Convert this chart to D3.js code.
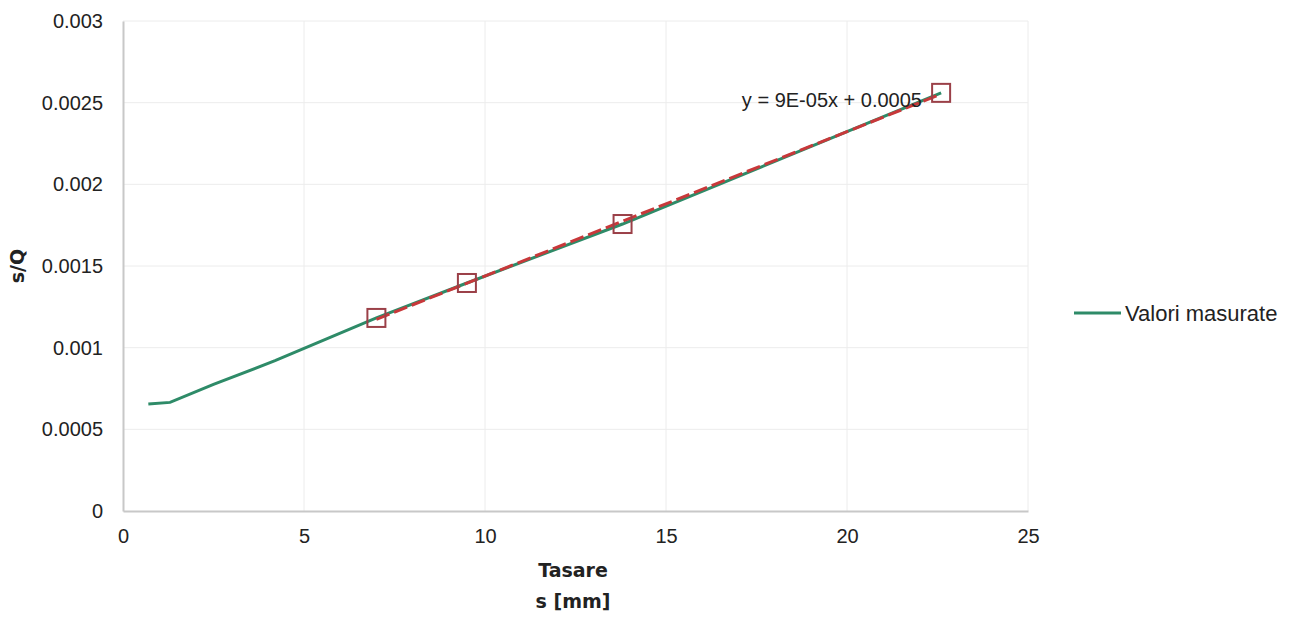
<!DOCTYPE html>
<html>
<head>
<meta charset="utf-8">
<script src="https://cdn.jsdelivr.net/npm/d3@7"></script>
<style>
  body { margin: 0; background: #fff; }
  svg { display: block; }
</style>
</head>
<body>
<div class="chart"></div>
<script>
// measured values (s [mm], s/Q)
var tasare = [0.7, 1.3, 2.5, 4.2, 7.0, 9.5, 13.8, 22.6];
var sQ = [0.000655, 0.000665, 0.000775, 0.00092, 0.001182, 0.001396, 0.001757, 0.00256];
// points used for the linear trend
var fitX = [7.0, 9.5, 13.8, 22.6];
var fitY = [0.001182, 0.001396, 0.001757, 0.00256];
var xTicks = [0, 5, 10, 15, 20, 25];
var yTicks = [0, 0.0005, 0.001, 0.0015, 0.002, 0.0025, 0.003];
var equation = "y = 9E-05x + 0.0005";
var legendName = "Valori masurate";

var W = 1297, H = 617;
var mLeft = 123, mRight = 1028, mTop = 21, mBottom = 511;

var svg = d3.select(".chart").append("svg")
  .attr("width", W)
  .attr("height", H);

var x = d3.scaleLinear().domain([0, 25]).range([mLeft, mRight]);
var y = d3.scaleLinear().domain([0, 0.003]).range([mBottom, mTop]);

// gridlines
svg.append("g").selectAll("line").data(yTicks.slice(1)).enter().append("line")
  .attr("x1", mLeft).attr("x2", mRight)
  .attr("y1", d => y(d)).attr("y2", d => y(d))
  .attr("stroke", "#ececec").attr("stroke-width", 1);
svg.append("g").selectAll("line").data(xTicks.slice(1)).enter().append("line")
  .attr("x1", d => x(d)).attr("x2", d => x(d))
  .attr("y1", mTop).attr("y2", mBottom)
  .attr("stroke", "#ececec").attr("stroke-width", 1);

// axes
var xAxis = svg.append("g")
  .attr("transform", "translate(0," + mBottom + ")")
  .call(d3.axisBottom(x).tickValues(xTicks).tickSize(0).tickPadding(18).tickFormat(d3.format("d")));
var yAxis = svg.append("g")
  .attr("transform", "translate(" + mLeft + ",0)")
  .call(d3.axisLeft(y).tickValues(yTicks).tickSize(0).tickPadding(20).tickFormat(d => d === 0 ? "0" : String(+d.toFixed(4))));

[xAxis, yAxis].forEach(function (a) {
  a.select(".domain").attr("stroke", "#c8c8c8").attr("stroke-width", 2);
  a.selectAll("text")
    .attr("fill", "#222")
    .style("font-family", "'Liberation Sans', Arial, sans-serif")
    .style("font-size", "20px");
});

// measured line
var line = d3.line().x((d, i) => x(tasare[i])).y(d => y(d));
svg.append("path")
  .datum(sQ)
  .attr("d", line)
  .attr("fill", "none")
  .attr("stroke", "#2e8b68")
  .attr("stroke-width", 3);

// trend line (least squares over fit points)
var mx = d3.mean(fitX), my = d3.mean(fitY);
var slope = d3.sum(fitX, (v, i) => (v - mx) * (fitY[i] - my)) / d3.sum(fitX, v => (v - mx) * (v - mx));
var icpt = my - slope * mx;
var x0 = d3.min(fitX), x1 = d3.max(fitX);
svg.append("line")
  .attr("x1", x(x0)).attr("y1", y(slope * x0 + icpt))
  .attr("x2", x(x1)).attr("y2", y(slope * x1 + icpt))
  .attr("stroke", "#c8383a")
  .attr("stroke-width", 3)
  .attr("stroke-dasharray", "14,5");

// markers
svg.append("g").selectAll("rect").data(fitX).enter().append("rect")
  .attr("x", d => x(d) - 9)
  .attr("y", (d, i) => y(fitY[i]) - 9)
  .attr("width", 18).attr("height", 18)
  .attr("fill", "none")
  .attr("stroke", "#9b4048")
  .attr("stroke-width", 2);

// equation
svg.append("text")
  .attr("x", 922).attr("y", 107)
  .attr("text-anchor", "end")
  .attr("fill", "#222")
  .style("font-family", "'Liberation Sans', Arial, sans-serif")
  .style("font-size", "20px")
  .text(equation);

// axis titles
var bold = "'DejaVu Sans', sans-serif";
svg.append("text")
  .attr("x", 573).attr("y", 577)
  .attr("text-anchor", "middle")
  .style("font-family", bold).style("font-weight", "bold").style("font-size", "19px")
  .attr("fill", "#222")
  .text("Tasare");
svg.append("text")
  .attr("x", 573).attr("y", 608)
  .attr("text-anchor", "middle")
  .style("font-family", bold).style("font-weight", "bold").style("font-size", "19px")
  .attr("fill", "#222")
  .text("s [mm]");
svg.append("text")
  .attr("transform", "translate(24,266) rotate(-90)")
  .attr("text-anchor", "middle")
  .style("font-family", bold).style("font-weight", "bold").style("font-size", "19px")
  .attr("fill", "#222")
  .text("s/Q");

// legend
svg.append("line")
  .attr("x1", 1074).attr("x2", 1121)
  .attr("y1", 313).attr("y2", 313)
  .attr("stroke", "#2e8b68").attr("stroke-width", 3);
svg.append("text")
  .attr("x", 1125).attr("y", 321)
  .attr("fill", "#222")
  .style("font-family", "'Liberation Sans', Arial, sans-serif")
  .style("font-size", "22px")
  .text(legendName);
</script>
</body>
</html>
